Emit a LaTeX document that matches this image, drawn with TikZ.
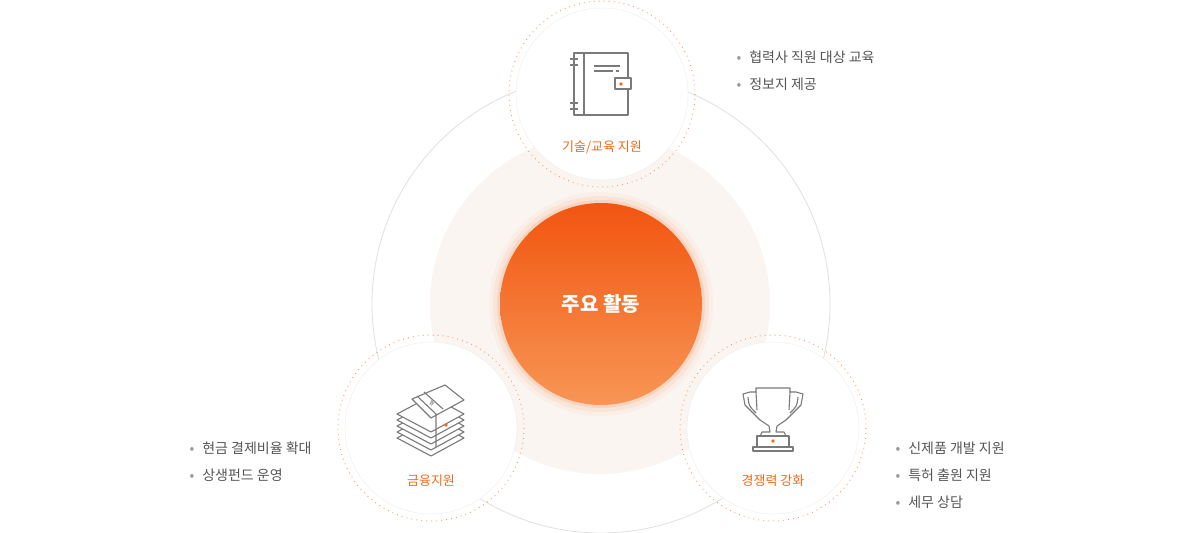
\documentclass[tikz,border=0pt]{standalone}
\usepackage{fontspec}
\setmainfont{Noto Sans CJK KR}
\definecolor{org}{HTML}{F26B1D}
\definecolor{txt}{HTML}{555555}
\definecolor{ico}{HTML}{7A7A7A}
\definecolor{pale}{HTML}{FBF5F1}
\definecolor{olight}{HTML}{F79655}
\definecolor{odark}{HTML}{F25510}
\tikzset{
 sat/.style={circle,draw=black!7,fill=white,minimum size=172pt,inner sep=0pt},
 halo/.style={draw=org!70,line width=1pt,dash pattern=on 0.8pt off 4.2pt},
 lab/.style={text=org,font=\fontsize{13}{15}\selectfont},
 bul/.style={text=txt,font=\fontsize{14}{17}\selectfont,anchor=west},
 icon/.style={draw=ico,line width=1.1pt,line join=round},
}
\newcommand{\bl}[1]{{\color{black!40}\textbullet}\hspace{8pt}#1}
\begin{document}
\begin{tikzpicture}[x=1pt,y=-1pt]
\useasboundingbox (0,0) rectangle (1200,533);
\draw[black!12,line width=0.8pt] (601,304) circle (229);
\fill[pale] (600,304) circle (170);
\foreach \r/\o in {112/0.04,108/0.08,104/0.12}{\fill[org,opacity=\o] (601,304) circle (\r);}
\shade[shading=axis,shading angle=135,top color=odark,bottom color=olight] (601,304) circle (101);
\node[text=white,font=\bfseries\fontsize{20}{24}\selectfont] (ct) at (601,304) {주요 활동};
% satellites
\foreach \n/\x/\y in {t/602/94,l/431/428,r/773/428}{
 \draw[halo] (\x,\y) circle (93);
 \node[sat] (\n) at (\x,\y) {};}
\node[lab] (tl) at (602,147) {기술/교육 지원};
\node[lab] (ll) at (431,481) {금융지원};
\node[lab] (rl) at (773,481) {경쟁력 강화};
% bullets
\node[bul] (b1) at (733,57) {\bl{협력사 직원 대상 교육}};
\node[bul] (b2) at (733,84) {\bl{정보지 제공}};
\node[bul] (b3) at (186,448) {\bl{현금 결제비율 확대}};
\node[bul] (b4) at (186,475) {\bl{상생펀드 운영}};
\node[bul] (b5) at (892,448) {\bl{신제품 개발 지원}};
\node[bul] (b6) at (892,475) {\bl{특허 출원 지원}};
\node[bul] (b7) at (892,502) {\bl{세무 상담}};
% notebook icon
\draw[icon] (574,53) rectangle (628,115);
\draw[icon] (584,53) -- (584,115);
\foreach \yy in {59,65,103,109}{\draw[icon] (570,\yy) -- (578,\yy);}
\draw[icon] (594,66) -- (620,66); \draw[icon] (594,71) -- (613,71); \draw[icon] (616,71)--(619,71);
\draw[icon,fill=white] (615,78) rectangle (631,89);
\fill[org] (621,84) circle (1.8);
% money icon
\foreach \d in {24,18,12,6,0}{
 \draw[icon,fill=white] (397,{414+\d}) -- (431,{396+\d}) -- (464,{414+\d}) -- (431,{432+\d}) -- cycle;}
\draw[icon,fill=white] (412,399) -- (445,385) -- (464,400) -- (431,418) -- cycle;
\draw[icon] (417,396) -- (436,414) -- (436,447);
\draw[icon] (424,392) -- (443,409);
\node[text=ico,font=\fontsize{7}{8}\selectfont,rotate=-30] (won) at (432,403) {₩};
\fill[org] (446,425) circle (1.8);
% trophy
\draw[icon,fill=white] (756,388) -- (790,388) -- (790,392) -- (796,392) -- (803,394) -- (801,405) -- (790,416) -- (786,420) -- (777,426) -- (776,432) -- (784,432) -- (786,436) -- (760,436) -- (762,432) -- (770,432) -- (769,426) -- (760,420) -- (756,416) -- (745,405) -- (743,394) -- (750,392) -- (756,392) -- cycle;
\draw[icon] (756,392) -- (757,410); \draw[icon] (790,392) -- (789,410);
\draw[icon] (748,397) .. controls (749,406) .. (756,413);
\draw[icon] (798,397) .. controls (797,406) .. (790,413);
\draw[icon,fill=white] (757,436) rectangle (789,447);
\draw[icon,fill=white] (753,447) rectangle (793,451);
\fill[org] (773,441) circle (1.8);
\end{tikzpicture}
\end{document}
